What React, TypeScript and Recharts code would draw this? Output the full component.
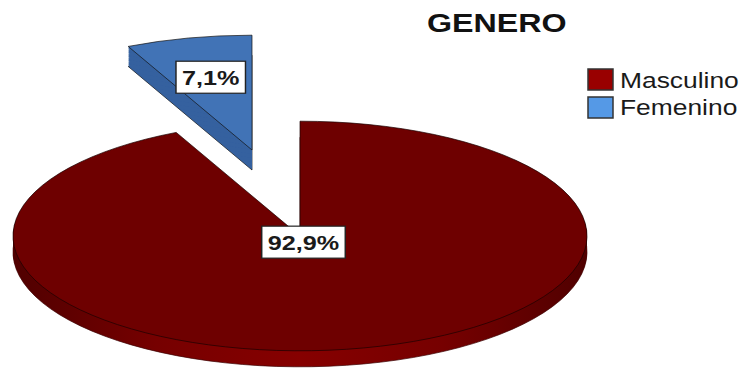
import React from 'react';
import { PieChart, Pie, Cell } from 'recharts';

// datos del grafico
const categorias = ['Masculino', 'Femenino'];
const porcentajes = [92.9, 7.1];
const titulo = 'GENERO';

const data = categorias.map((name, i) => ({ name, value: porcentajes[i] }));

// el pie se dibuja como circulo y se aplasta en vertical para simular 3D
const K = 0.4;
const RAD = Math.PI / 180;
const FONT = '"Liberation Sans", Arial, sans-serif';

const topColors = ['#6e0000', '#4173b6'];
const sideColors = ['url(#sideRed)', '#35619f'];
const legendColors = ['#990000', '#5599e6'];

// desplazamiento del sector separado (en coordenadas del circulo)
const mainCenter = { cx: 300, cy: 236 / K };
const explodedCenter = { cx: 252, cy: 150 / K };
const labelFactor = [0.055, 0.65];

const charW = (s: string) =>
  s.split('').reduce((w, c) => w + (c === ',' ? 5.8 : c === '%' ? 18.7 : 11.7), 0);

const formatPct = (p: number) => `${(p * 100).toFixed(1).replace('.', ',')}%`;

const makeLabel = (only: number) => (props: any) => {
  const { cx, cy, midAngle, outerRadius, percent, index } = props;
  if (index !== only) return null;
  const r = outerRadius * labelFactor[index];
  const x = cx + r * Math.cos(-midAngle * RAD);
  const y = cy + r * Math.sin(-midAngle * RAD);
  const txt = formatPct(percent);
  const w = charW(txt) + 10;
  return (
    <g transform={`translate(${x},${y}) scale(1.2, ${1 / K})`}>
      <rect x={-w / 2} y={-16} width={w} height={32} fill="#fff" stroke="#222" strokeWidth={1.2} />
      <text x={0} y={7.5} textAnchor="middle" fontFamily={FONT} fontWeight="bold" fontSize={21} fill="#1a1a1a">
        {txt}
      </text>
    </g>
  );
};

const mainDepth = 16 / K;
const blueDepth = 20 / K;
const layers = (depth: number) => {
  const out: number[] = [];
  for (let d = depth; d > 0; d -= 2) out.push(d);
  return out;
};

const renderPie = (key: string, center: { cx: number; cy: number }, dy: number, show: number, fill: string, stroke: string, label?: any) => (
  <Pie
    key={key}
    data={data}
    dataKey="value"
    cx={center.cx}
    cy={center.cy + dy}
    outerRadius={287}
    startAngle={90}
    endAngle={-270}
    isAnimationActive={false}
    labelLine={false}
    label={label || false}
  >
    {data.map((_, i) => (
      <Cell
        key={i}
        fill={i === show ? fill : 'none'}
        stroke={i === show ? stroke : 'none'}
        strokeWidth={1}
        vectorEffect="non-scaling-stroke"
      />
    ))}
  </Pie>
);

export default function App() {
  return (
    <div style={{ position: 'absolute', left: 0, top: 0, width: 749, height: 368, overflow: 'hidden', background: '#fff' }}>
      <div style={{ position: 'absolute', left: 0, top: 0, transform: `scaleY(${K})`, transformOrigin: '0 0' }}>
        <PieChart width={749} height={368 / K} margin={{ top: 0, right: 0, bottom: 0, left: 0 }}>
          <defs>
            <linearGradient id="sideRed" x1="0" y1="0" x2="1" y2="0">
              <stop offset="0%" stopColor="#500000" />
              <stop offset="25%" stopColor="#760000" />
              <stop offset="50%" stopColor="#860000" />
              <stop offset="75%" stopColor="#760000" />
              <stop offset="100%" stopColor="#500000" />
            </linearGradient>
          </defs>
          {layers(blueDepth).map((d, j) =>
            renderPie(`b${d}`, explodedCenter, d, 1, sideColors[1], j === 0 ? '#111' : 'none')
          )}
          {renderPie('btop', explodedCenter, 0, 1, topColors[1], '#111', makeLabel(1))}
          {layers(mainDepth).map((d, j) =>
            renderPie(`m${d}`, mainCenter, d, 0, sideColors[0], j === 0 ? '#3a0000' : 'none')
          )}
          {renderPie('mtop', mainCenter, 0, 0, topColors[0], '#1a0000', makeLabel(0))}
        </PieChart>
      </div>
      <svg width={749} height={368} style={{ position: 'absolute', left: 0, top: 0 }}>
        <g transform="translate(427,32) scale(1.24,1)">
          <text x={0} y={0} fontFamily={FONT} fontWeight="bold" fontSize={26} fill="#111">
            {titulo}
          </text>
        </g>
        {categorias.map((c, i) => (
          <g key={c}>
            <rect x={588} y={69 + i * 28} width={25} height={21} fill={legendColors[i]} stroke="#333" strokeWidth={1.5} />
            <g transform={`translate(620,${87.5 + i * 27.5}) scale(1.2,1)`}>
              <text x={0} y={0} fontFamily={FONT} fontSize={22} fill="#1a1a1a">
                {c}
              </text>
            </g>
          </g>
        ))}
      </svg>
    </div>
  );
}
